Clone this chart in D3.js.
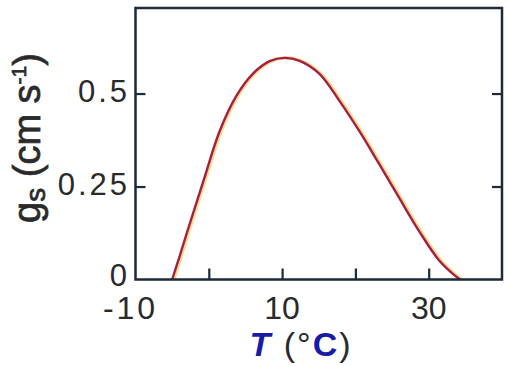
<!DOCTYPE html>
<html>
<head>
<meta charset="utf-8">
<script src="https://cdn.jsdelivr.net/npm/d3@7"></script>
<style>
  body { margin: 0; background: #fff; }
  svg { display: block; }
  text { font-family: "Liberation Sans", Arial, sans-serif; fill: #2a2a2a; }
</style>
</head>
<body>
<svg id="chart" width="509" height="366"></svg>
<script>
// curve: stomatal conductance vs temperature
const temps = [-5, -4, -3, -0.7, 1.5, 3.8, 6, 8.3, 10.3, 12.4, 15.1, 17.8, 20.5, 23.2, 25.9, 28.6, 31.4, 33.8, 34.3];
const gsVals = [0, 0.061, 0.125, 0.267, 0.40, 0.495, 0.553, 0.587, 0.596, 0.588, 0.553, 0.481, 0.40, 0.312, 0.222, 0.133, 0.052, 0.007, 0];

const xTicks = [0, 10, 20, 30];
const xLabels = [-10, 10, 30];
const yTicks = [0.25, 0.5];
const yLabels = [0, 0.25, 0.5];

const svg = d3.select('#chart');
const mLeft = 135.5, mRight = 502, mTop = 8, mBottom = 279.5;

const x = d3.scaleLinear().domain([-10, 40]).range([mLeft, mRight]);
const y = d3.scaleLinear().domain([0, 0.73]).range([mBottom, mTop]);

const axisCol = '#1d2a38';

// curve, with the yellow fringe of the print
const line = d3.line()
  .x(function(d, i) { return x(temps[i]); })
  .y(function(d) { return y(d); })
  .curve(d3.curveCatmullRom.alpha(0.5));

svg.append('path')
  .attr('d', line(gsVals))
  .attr('transform', 'translate(1.5,0)')
  .attr('fill', 'none')
  .attr('stroke', '#f6dc8a')
  .attr('stroke-width', 3.5);

svg.append('path')
  .attr('d', line(gsVals))
  .attr('fill', 'none')
  .attr('stroke', '#a31f48')
  .attr('stroke-width', 2.4);

// frame
svg.append('rect')
  .attr('x', mLeft).attr('y', mTop)
  .attr('width', mRight - mLeft).attr('height', mBottom - mTop)
  .attr('fill', 'none')
  .attr('stroke', axisCol)
  .attr('stroke-width', 2.5);

// inward ticks
svg.append('g')
  .attr('transform', 'translate(0,' + mBottom + ')')
  .call(d3.axisBottom(x).tickValues(xTicks).tickSize(-11).tickFormat(''))
  .call(g => g.select('.domain').remove())
  .call(g => g.selectAll('line').attr('stroke', axisCol).attr('stroke-width', 2.2));

svg.append('g')
  .attr('transform', 'translate(' + mLeft + ',0)')
  .call(d3.axisLeft(y).tickValues(yTicks).tickSize(-10).tickFormat(''))
  .call(g => g.select('.domain').remove())
  .call(g => g.selectAll('line').attr('stroke', axisCol).attr('stroke-width', 2.2));

svg.append('g')
  .attr('transform', 'translate(' + mRight + ',0)')
  .call(d3.axisRight(y).tickValues(yTicks).tickSize(-10).tickFormat(''))
  .call(g => g.select('.domain').remove())
  .call(g => g.selectAll('line').attr('stroke', axisCol).attr('stroke-width', 2.2));

// tick labels
svg.append('g').selectAll('text')
  .data(xLabels)
  .enter().append('text')
  .attr('x', function(d) { return x(d) - (d < 0 ? 5 : 0); })
  .attr('y', 319)
  .attr('text-anchor', 'middle')
  .style('font-size', '32px')
  .style('letter-spacing', function(d) { return d < 0 ? '3px' : '0px'; })
  .text(function(d) { return d; });

svg.append('g').selectAll('text')
  .data(yLabels)
  .enter().append('text')
  .attr('x', 130)
  .attr('y', function(d) { return y(d); })
  .attr('dy', function(d) { return d === 0 ? '0.2em' : '0.28em'; })
  .attr('text-anchor', 'end')
  .style('font-size', '31px')
  .style('letter-spacing', '3px')
  .text(function(d) { return d; });

// y axis title
const yt = svg.append('text')
  .attr('transform', 'translate(40,138) rotate(-90)')
  .attr('text-anchor', 'middle')
  .style('font-size', '38px')
  .style('stroke', '#2a2a2a')
  .style('stroke-width', 0.7);
yt.append('tspan').text('g');
yt.append('tspan').attr('dy', 5).style('font-size', '28px').text('s');
yt.append('tspan').attr('dy', -5).text(' (cm s');
yt.append('tspan').attr('dy', -14).style('font-size', '21px').text('-1');
yt.append('tspan').attr('dy', 14).text(')');

// x axis title
const xt = svg.append('text')
  .attr('x', 301).attr('y', 356)
  .attr('text-anchor', 'middle')
  .style('font-size', '34px')
  .style('letter-spacing', '2px');
xt.append('tspan').style('fill', '#1a1aa6').style('font-weight', 'bold').style('font-style', 'italic').text('T');
xt.append('tspan').text(' (°');
xt.append('tspan').style('fill', '#1a1aa6').style('font-weight', 'bold').text('C');
xt.append('tspan').text(')');
</script>
</body>
</html>
